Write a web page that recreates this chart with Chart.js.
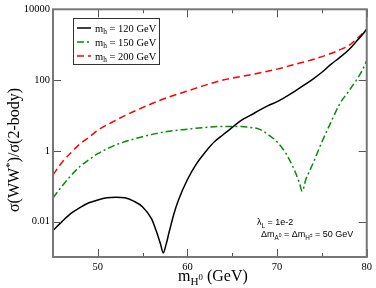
<!DOCTYPE html>
<html>
<head>
<meta charset="utf-8">
<script src="https://cdn.jsdelivr.net/npm/chart.js@4.4.0/dist/chart.umd.min.js"></script>
<style>
  html, body { margin: 0; padding: 0; background: #fff; }
</style>
</head>
<body>
<canvas id="chart" width="376" height="288"></canvas>
<script>
// m_H0 (GeV) and sigma(WW*)/sigma(2-body)
const massH120 = [45, 46, 47, 48, 49, 50, 51, 52, 53, 54, 55, 56, 56.5, 57, 57.3, 57.6, 58, 58.5, 59, 60, 61, 62, 63, 64, 65, 66, 67, 68, 69, 70, 71, 72, 73, 74, 75, 76, 77, 78, 79, 79.5, 80];
const ratioH120 = [0.0056, 0.010, 0.017, 0.025, 0.034, 0.041, 0.047, 0.049, 0.047, 0.038, 0.026, 0.012, 0.0056, 0.0023, 0.0013, 0.0022, 0.0056, 0.017, 0.041, 0.155, 0.43, 0.93, 1.8, 2.9, 4.6, 7.3, 10, 13.9, 19, 24.5, 34, 49, 72, 107, 166, 278, 436, 720, 1370, 1900, 2780];

const massH150 = [45, 46, 47, 48, 49, 50, 52, 54, 56, 58, 60, 62, 64, 66, 67, 68, 69, 70, 71, 72, 72.5, 72.8, 73.2, 73.5, 74, 75, 76, 77, 78, 79, 79.5, 80];
const ratioH150 = [0.047, 0.10, 0.20, 0.36, 0.56, 0.83, 1.47, 2.15, 2.9, 3.6, 4.1, 4.6, 4.9, 4.9, 4.6, 4.1, 2.9, 1.78, 0.83, 0.26, 0.12, 0.072, 0.155, 0.23, 0.44, 1.78, 6.4, 21.5, 49, 115, 190, 360];

const massH200 = [45, 46, 47, 48, 49, 50, 52, 54, 56, 58, 60, 62, 64, 66, 68, 70, 72, 74, 76, 77, 78, 79, 79.5, 80];
const ratioH200 = [0.21, 0.47, 0.88, 1.56, 2.4, 3.8, 7.3, 12.9, 21.5, 33.8, 49, 72, 100, 126, 158, 204, 278, 383, 562, 720, 940, 1560, 2040, 2780];

const seriesLabels = ['120', '150', '200'];

const xMajorTicks = [50, 60, 70, 80];
const xMinorTicks = [55, 65, 75];
const yMajorTicks = [0.01, 1, 100, 10000];

const serif = '"Liberation Serif", "DejaVu Serif", serif';
const sans = '"Liberation Sans", Arial, sans-serif';

function toPoints(xs, ys) {
  return xs.map((x, i) => ({ x: x, y: ys[i] }));
}

// draws text with sub/superscripts: parts = [[text, 'n'|'sub'|'sup'|'subsup'], ...]
function drawRich(ctx, parts, x, y, size, family) {
  let cx = x;
  parts.forEach(([t, kind]) => {
    let fs = size, dy = 0;
    if (kind === 'sub') { fs = size * 0.7; dy = size * 0.28; }
    if (kind === 'sup') { fs = size * 0.7; dy = -size * 0.4; }
    if (kind === 'subsup') { fs = size * 0.55; dy = -size * 0.05; }
    ctx.font = fs + 'px ' + family;
    ctx.fillText(t, cx, y + dy);
    cx += ctx.measureText(t).width;
  });
  return cx - x;
}

function richWidth(ctx, parts, size, family) {
  let w = 0;
  parts.forEach(([t, kind]) => {
    let fs = kind === 'n' ? size : (kind === 'subsup' ? size * 0.55 : size * 0.7);
    ctx.font = fs + 'px ' + family;
    w += ctx.measureText(t).width;
  });
  return w;
}

const framePlugin = {
  id: 'framePlugin',
  afterDatasetsDraw(chart) {
    const { ctx, chartArea: a, scales: { x, y } } = chart;
    ctx.save();

    // ticks (inside, on all four sides)
    ctx.strokeStyle = '#555';
    ctx.lineWidth = 1;
    ctx.beginPath();
    const xt = xMajorTicks.map(v => [v, 8]).concat(xMinorTicks.map(v => [v, 4]));
    xt.forEach(([v, len]) => {
      const px = Math.round(x.getPixelForValue(v)) + 0.5;
      ctx.moveTo(px, a.bottom); ctx.lineTo(px, a.bottom - len);
      ctx.moveTo(px, a.top); ctx.lineTo(px, a.top + len);
    });
    yMajorTicks.forEach(v => {
      const py = Math.round(y.getPixelForValue(v)) + 0.5;
      ctx.moveTo(a.left, py); ctx.lineTo(a.left + 8, py);
      ctx.moveTo(a.right, py); ctx.lineTo(a.right - 8, py);
    });
    ctx.stroke();

    // frame
    ctx.strokeStyle = '#777';
    ctx.lineWidth = 2;
    ctx.strokeRect(a.left, a.top, a.right - a.left, a.bottom - a.top);

    // legend box
    ctx.fillStyle = '#fff';
    ctx.fillRect(73.5, 18.5, 86, 46);
    ctx.strokeStyle = '#333';
    ctx.lineWidth = 1;
    ctx.strokeRect(73.5, 18.5, 86, 46);
    chart.data.datasets.forEach((ds, i) => {
      const ly = 28 + i * 14;
      ctx.strokeStyle = ds.borderColor;
      ctx.lineWidth = ds.borderWidth;
      ctx.setLineDash(ds.borderDash || []);
      ctx.beginPath();
      ctx.moveTo(77, ly); ctx.lineTo(91, ly);
      ctx.stroke();
      ctx.setLineDash([]);
      ctx.fillStyle = '#000';
      ctx.textBaseline = 'alphabetic';
      drawRich(ctx, [['m', 'n'], ['h', 'sub'], [' = ' + seriesLabels[i] + ' GeV', 'n']], 95, ly + 3.5, 10.5, serif);
    });

    // annotation
    ctx.fillStyle = '#000';
    drawRich(ctx, [['\u03bb', 'n'], ['L', 'sub'], [' = 1e-2', 'n']], 257, 225, 9, sans);
    drawRich(ctx, [['\u0394m', 'n'], ['A', 'sub'], ['0', 'subsup'], [' = \u0394m', 'n'], ['H', 'sub'], ['\u00b1', 'subsup'], [' = 50 GeV', 'n']], 261, 237, 9, sans);

    // x title
    drawRich(ctx, [['m', 'n'], ['H', 'sub'], ['0', 'subsup'], [' (GeV)', 'n']], 178, 281, 16, serif);

    // y title (rotated)
    const yParts = [['\u03c3(WW', 'n'], ['*', 'sup'], [')/\u03c3(2-body)', 'n']];
    const w = richWidth(ctx, yParts, 16, serif);
    ctx.translate(19, 150 + w / 2);
    ctx.rotate(-Math.PI / 2);
    drawRich(ctx, yParts, 0, 0, 16, serif);

    ctx.restore();
  }
};

const ctx = document.getElementById('chart').getContext('2d');
new Chart(ctx, {
  type: 'scatter',
  data: {
    datasets: [
      {
        label: 'm_h = 120 GeV',
        data: toPoints(massH120, ratioH120),
        borderColor: '#000000',
        borderWidth: 1.5,
        showLine: true,
        pointRadius: 0,
        cubicInterpolationMode: 'monotone'
      },
      {
        label: 'm_h = 150 GeV',
        data: toPoints(massH150, ratioH150),
        borderColor: '#009000',
        borderWidth: 1.5,
        borderDash: [7, 3, 2, 3],
        showLine: true,
        pointRadius: 0,
        cubicInterpolationMode: 'monotone'
      },
      {
        label: 'm_h = 200 GeV',
        data: toPoints(massH200, ratioH200),
        borderColor: '#ff0000',
        borderWidth: 1.5,
        borderDash: [7, 4],
        showLine: true,
        pointRadius: 0,
        cubicInterpolationMode: 'monotone'
      }
    ]
  },
  options: {
    responsive: false,
    animation: false,
    layout: { padding: { left: 0, right: 6, top: 5, bottom: 0 } },
    plugins: {
      legend: { display: false },
      tooltip: { enabled: false }
    },
    scales: {
      x: {
        type: 'linear',
        min: 45,
        max: 80,
        afterBuildTicks: s => { s.ticks = xMajorTicks.map(v => ({ value: v })); },
        afterFit: s => { s.height = 31; },
        grid: { display: false, drawTicks: false },
        border: { display: false },
        ticks: {
          padding: 4,
          color: '#000',
          font: { family: serif, size: 10.5 }
        }
      },
      y: {
        type: 'logarithmic',
        min: 0.001,
        max: 10000,
        afterBuildTicks: s => { s.ticks = yMajorTicks.map(v => ({ value: v })); },
        afterFit: s => { s.width = 53; },
        grid: { display: false, drawTicks: false },
        border: { display: false },
        ticks: {
          padding: 3,
          color: '#000',
          font: { family: serif, size: 10.5 },
          callback: v => String(v)
        }
      }
    }
  },
  plugins: [framePlugin]
});
</script>
</body>
</html>
